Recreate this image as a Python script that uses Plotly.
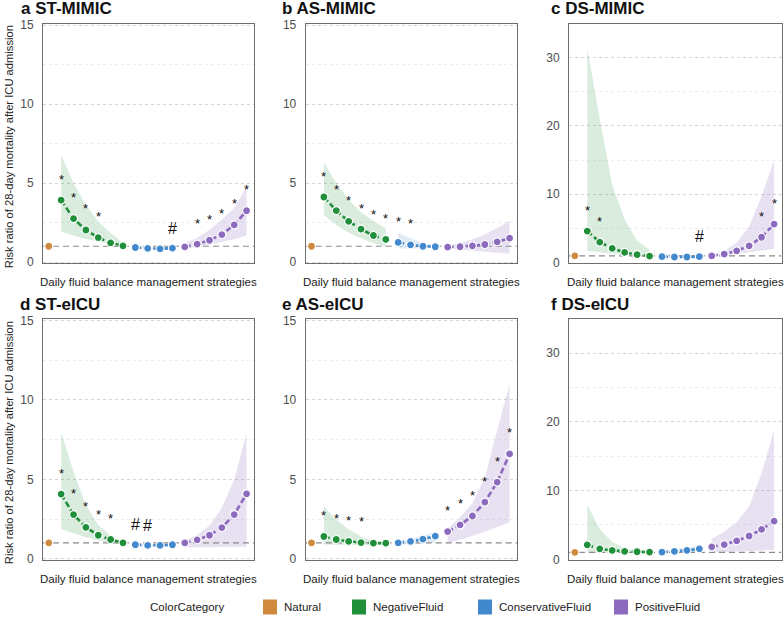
import plotly.graph_objects as go

# ---------------- data ----------------
group_names = ["Natural", "NegativeFluid", "ConservativeFluid", "PositiveFluid"]
group_sizes = [1, 6, 4, 6]
panel_titles = ["a ST-MIMIC", "b AS-MIMIC", "c DS-MIMIC", "d ST-eICU", "e AS-eICU", "f DS-eICU"]
x_title = "Daily fluid balance management strategies"
y_title = "Risk ratio of 28-day mortality after ICU admission"
yticks_small = [0, 5, 10, 15]
yticks_large = [0, 10, 20, 30]

# panel a
a_nat = [1.0]
a_neg = [3.92, 2.75, 2.03, 1.55, 1.22, 1.03]
a_neg_lo = [1.94, 1.67, 1.46, 1.29, 1.14, 0.98]
a_neg_hi = [6.77, 5.0, 3.62, 2.57, 1.84, 1.2]
a_con = [0.92, 0.86, 0.84, 0.88]
a_con_lo = [0.85, 0.8, 0.78, 0.8]
a_con_hi = [1.0, 0.93, 0.9, 0.97]
a_pos = [0.96, 1.13, 1.38, 1.74, 2.35, 3.25]
a_pos_lo = [0.82, 0.98, 1.1, 1.28, 1.45, 1.68]
a_pos_hi = [1.2, 1.52, 2.05, 2.68, 3.41, 4.8]
a_sig = ["", "*", "*", "*", "*", "", "", "", "", "", "#", "", "*", "*", "*", "*", "*"]

# panel b
b_nat = [1.0]
b_neg = [4.12, 3.26, 2.58, 2.08, 1.68, 1.43]
b_neg_lo = [2.98, 2.35, 1.85, 1.5, 1.2, 0.98]
b_neg_hi = [6.3, 5.0, 3.95, 3.15, 2.6, 2.14]
b_con = [1.24, 1.09, 1.0, 0.97]
b_con_lo = [0.85, 0.85, 0.88, 0.9]
b_con_hi = [1.82, 1.5, 1.2, 1.05]
b_pos = [0.95, 0.97, 1.03, 1.11, 1.28, 1.51]
b_pos_lo = [0.84, 0.78, 0.72, 0.66, 0.6, 0.52]
b_pos_hi = [1.05, 1.2, 1.45, 1.75, 2.15, 2.62]
b_sig = ["", "*", "*", "*", "*", "*", "*", "*", "*", "", "", "", "", "", "", "", ""]

# panel c
c_nat = [1.0]
c_neg = [4.62, 2.99, 2.07, 1.49, 1.16, 0.96]
c_neg_lo = [1.7, 1.5, 1.3, 1.1, 0.9, 0.75]
c_neg_hi = [31.3, 21.0, 11.4, 6.3, 3.2, 1.9]
c_con = [0.87, 0.82, 0.82, 0.87]
c_con_lo = [0.6, 0.6, 0.62, 0.65]
c_con_hi = [1.3, 1.1, 1.05, 1.1]
c_pos = [1.0, 1.25, 1.73, 2.46, 3.71, 5.63]
c_pos_lo = [0.9, 1.05, 1.25, 1.5, 1.75, 2.0]
c_pos_hi = [1.1, 1.7, 2.9, 5.3, 9.7, 15.0]
c_sig = ["", "*", "*", "", "", "", "", "", "", "", "#", "", "", "", "", "*", "*"]

# panel d
d_nat = [1.0]
d_neg = [4.07, 2.78, 1.98, 1.48, 1.21, 1.0]
d_neg_lo = [1.88, 1.6, 1.35, 1.15, 0.98, 0.9]
d_neg_hi = [7.97, 5.47, 3.38, 2.13, 1.45, 1.02]
d_con = [0.88, 0.84, 0.84, 0.88]
d_con_lo = [0.78, 0.76, 0.76, 0.78]
d_con_hi = [0.98, 0.92, 0.92, 0.98]
d_pos = [1.0, 1.19, 1.48, 1.96, 2.78, 4.09]
d_pos_lo = [0.7, 0.72, 0.74, 0.75, 0.75, 0.75]
d_pos_hi = [1.15, 1.5, 2.1, 3.2, 5.0, 7.9]
d_sig = ["", "*", "*", "*", "*", "*", "", "#", "#", "", "", "", "", "", "", "", ""]

# panel e
e_nat = [1.0]
e_neg = [1.4, 1.21, 1.09, 1.02, 0.98, 0.98]
e_neg_lo = [0.9, 0.88, 0.86, 0.85, 0.85, 0.85]
e_neg_hi = [3.3, 2.45, 1.85, 1.4, 1.1, 0.98]
e_con = [1.0, 1.09, 1.23, 1.42]
e_con_lo = [0.88, 0.9, 0.95, 1.0]
e_con_hi = [1.1, 1.25, 1.45, 1.7]
e_pos = [1.71, 2.13, 2.69, 3.57, 4.82, 6.6]
e_pos_lo = [0.96, 1.2, 1.45, 1.7, 2.0, 2.3]
e_pos_hi = [1.9, 2.6, 3.5, 5.1, 8.1, 11.0]
e_sig = ["", "*", "*", "*", "*", "", "", "", "", "", "", "*", "*", "*", "*", "*", "*"]

# panel f
f_nat = [1.0]
f_neg = [2.1, 1.53, 1.29, 1.15, 1.1, 1.05]
f_neg_lo = [0.95, 0.9, 0.87, 0.85, 0.85, 0.85]
f_neg_hi = [7.9, 4.4, 2.5, 1.6, 1.2, 1.1]
f_con = [1.05, 1.15, 1.29, 1.53]
f_con_lo = [0.9, 0.95, 1.0, 1.1]
f_con_hi = [1.2, 1.4, 1.7, 2.05]
f_pos = [1.82, 2.15, 2.68, 3.39, 4.35, 5.54]
f_pos_lo = [1.0, 1.1, 1.15, 1.2, 1.28, 1.34]
f_pos_hi = [3.0, 4.0, 5.4, 7.7, 12.5, 18.8]
f_sig = [""] * 17

reference_rr = 1.0

# ---------------- styles ----------------
W, H = 784, 617
colors = {"Natural": "#D08A3E", "NegativeFluid": "#1F8F3A",
          "ConservativeFluid": "#4188CC", "PositiveFluid": "#8C6BBF"}
fills = {"NegativeFluid": "rgba(31,143,58,0.17)",
         "ConservativeFluid": "rgba(65,136,204,0.17)",
         "PositiveFluid": "rgba(140,107,191,0.2)"}
FONT = "Liberation Sans, Arial, sans-serif"

col_px = [(43, 254), (305.7, 517), (569, 781.5)]
row_px = [(24, 263.3), (319.3, 560)]
title_pos = [(20, 8.9), (281, 8.9), (550, 8.9), (19, 304.5), (281, 304.5), (550, 304.5)]
xtitle_y = [282, 579]


def px(x):
    return x / W


def py(y):
    return 1 - y / H


panels = [
    (a_nat, a_neg, a_neg_lo, a_neg_hi, a_con, a_con_lo, a_con_hi, a_pos, a_pos_lo, a_pos_hi, a_sig, "small"),
    (b_nat, b_neg, b_neg_lo, b_neg_hi, b_con, b_con_lo, b_con_hi, b_pos, b_pos_lo, b_pos_hi, b_sig, "small"),
    (c_nat, c_neg, c_neg_lo, c_neg_hi, c_con, c_con_lo, c_con_hi, c_pos, c_pos_lo, c_pos_hi, c_sig, "large"),
    (d_nat, d_neg, d_neg_lo, d_neg_hi, d_con, d_con_lo, d_con_hi, d_pos, d_pos_lo, d_pos_hi, d_sig, "small"),
    (e_nat, e_neg, e_neg_lo, e_neg_hi, e_con, e_con_lo, e_con_hi, e_pos, e_pos_lo, e_pos_hi, e_sig, "small"),
    (f_nat, f_neg, f_neg_lo, f_neg_hi, f_con, f_con_lo, f_con_hi, f_pos, f_pos_lo, f_pos_hi, f_sig, "large"),
]

# x positions for each group
xpos = {}
start = 1
for g, n in zip(group_names, group_sizes):
    xpos[g] = list(range(start, start + n))
    start += n
all_x = [x for g in group_names for x in xpos[g]]

fig = go.Figure()
annotations = []
shapes = []
layout_axes = {}

for i, p in enumerate(panels):
    nat, neg, neg_lo, neg_hi, con, con_lo, con_hi, pos, pos_lo, pos_hi, sig, scale = p
    k = i + 1
    xa = "x" if k == 1 else f"x{k}"
    ya = "y" if k == 1 else f"y{k}"
    r, c = divmod(i, 3)

    series = {"NegativeFluid": (neg, neg_lo, neg_hi),
              "ConservativeFluid": (con, con_lo, con_hi),
              "PositiveFluid": (pos, pos_lo, pos_hi)}
    # bands
    for g, (rr, lo, hi) in series.items():
        xs = xpos[g]
        fig.add_trace(go.Scatter(x=xs + xs[::-1], y=list(hi) + list(lo)[::-1],
                                 fill="toself", fillcolor=fills[g], mode="lines",
                                 line=dict(width=0), hoverinfo="skip", showlegend=False,
                                 xaxis=xa, yaxis=ya))
    # reference line (RR = 1) spanning the panel
    fig.add_trace(go.Scatter(x=[0.53, 17.6], y=[reference_rr, reference_rr], mode="lines",
                             line=dict(color="#8a8a8a", width=1.2, dash="6px,4px"),
                             hoverinfo="skip", showlegend=False, xaxis=xa, yaxis=ya))
    # lines + points
    fig.add_trace(go.Scatter(x=xpos["Natural"], y=nat, mode="markers",
                             marker=dict(size=8, color=colors["Natural"], line=dict(color="white", width=1.2)),
                             showlegend=False, xaxis=xa, yaxis=ya))
    for g, (rr, lo, hi) in series.items():
        fig.add_trace(go.Scatter(x=xpos[g], y=rr, mode="lines+markers",
                                 line=dict(color=colors[g], width=2.6, dash="6px,3px"),
                                 marker=dict(size=8, color=colors[g], line=dict(color="white", width=1.2)),
                                 showlegend=False, xaxis=xa, yaxis=ya))

    # significance marks
    all_rr = list(nat) + list(neg) + list(con) + list(pos)
    for xv, yv, s in zip(all_x, all_rr, sig):
        if s:
            annotations.append(dict(x=xv, y=yv, xref=xa, yref=ya, text=s, showarrow=False,
                                    yanchor="middle", yshift=(21 if s == "*" else 20),
                                    font=dict(family=FONT, size=(13 if s == "*" else 16), color="#111")))

    x0, x1 = col_px[c]
    yt, yb = row_px[r]
    if scale == "small":
        yrange, ticks, minor = [-0.08, 15.08], yticks_small, 2.5
    else:
        yrange, ticks, minor = [-0.1, 34.9], yticks_large, 5
    axkey = "xaxis" if k == 1 else f"xaxis{k}"
    aykey = "yaxis" if k == 1 else f"yaxis{k}"
    layout_axes[axkey] = dict(domain=[px(x0), px(x1)], anchor=ya, range=[0.53, 17.6],
                              showgrid=False, zeroline=False, showticklabels=False, ticks="",
                              showline=True, mirror=True, linecolor="#6e6e6e", linewidth=1)
    layout_axes[aykey] = dict(domain=[py(yb), py(yt)], anchor=xa, range=yrange,
                              tickmode="array", tickvals=ticks,
                              showgrid=True, gridcolor="#d4d4d4", griddash="dot", gridwidth=1,
                              minor=dict(dtick=minor, tick0=0, showgrid=True, gridcolor="#eeeeee", gridwidth=1),
                              zeroline=False, showline=True, mirror=True, linecolor="#6e6e6e", linewidth=1,
                              ticks="outside", ticklen=6, tickcolor="rgba(0,0,0,0)",
                              tickfont=dict(family=FONT, size=12, color="#4d4d4d"))

    # titles
    tx, ty = title_pos[i]
    annotations.append(dict(x=px(tx), y=py(ty), xref="paper", yref="paper", xanchor="left",
                            yanchor="middle", showarrow=False, borderpad=0,
                            text=f"<b>{panel_titles[i]}</b>",
                            font=dict(family=FONT, size=17, color="#111")))
    # x axis title
    annotations.append(dict(x=px((x0 + x1) / 2), y=py(xtitle_y[r]), xref="paper", yref="paper",
                            xanchor="center", yanchor="middle", showarrow=False, text=x_title,
                            font=dict(family=FONT, size=11.5, color="#222")))
    if c == 0:
        annotations.append(dict(x=px(8.5), y=py((yt + yb) / 2 + 3), xref="paper", yref="paper",
                                xanchor="center", yanchor="middle", showarrow=False, text=y_title,
                                textangle=-90, font=dict(family=FONT, size=11.2, color="#222")))

# legend (drawn manually)
legend_y = 607
annotations.append(dict(x=px(148), y=py(legend_y), xref="paper", yref="paper", xanchor="left",
                        yanchor="middle", showarrow=False, text="ColorCategory",
                        font=dict(family=FONT, size=11.5, color="#222")))
legend_sq_x = [263, 352, 478, 614]
for g, lx in zip(group_names, legend_sq_x):
    shapes.append(dict(type="rect", xref="paper", yref="paper", x0=px(lx), x1=px(lx + 14),
                       y0=py(legend_y + 7.5), y1=py(legend_y - 7.5),
                       fillcolor=colors[g], line=dict(width=0)))
    annotations.append(dict(x=px(lx + 19), y=py(legend_y), xref="paper", yref="paper", xanchor="left",
                            yanchor="middle", showarrow=False, text=g,
                            font=dict(family=FONT, size=11.5, color="#222")))

fig.update_layout(width=W, height=H, margin=dict(l=0, r=0, t=0, b=0), template="none",
                  paper_bgcolor="white", plot_bgcolor="white", showlegend=False,
                  annotations=annotations, shapes=shapes, **layout_axes)

fig.write_html("out.html")
